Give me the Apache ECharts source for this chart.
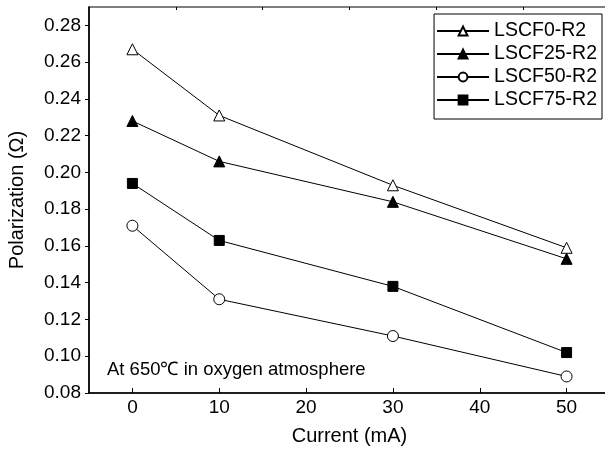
<!DOCTYPE html>
<html>
<head>
<meta charset="utf-8">
<script src="https://cdn.jsdelivr.net/npm/echarts@6/dist/echarts.min.js"></script>
<style>
  html, body { margin: 0; padding: 0; background: #fff; }
  #chart { width: 605px; height: 450px; }
</style>
</head>
<body>
<div id="chart"></div>
<script>
// current values (mA)
const currents = [0, 10, 30, 50];
const seriesNames = ['LSCF0-R2', 'LSCF25-R2', 'LSCF50-R2', 'LSCF75-R2'];
const lscf0 = [0.267, 0.231, 0.193, 0.159];
const lscf25 = [0.228, 0.206, 0.184, 0.153];
const lscf50 = [0.171, 0.131, 0.111, 0.089];
const lscf75 = [0.194, 0.163, 0.138, 0.102];
const xTicks = [0, 10, 20, 30, 40, 50];
const xMinorTicks = [5, 15, 25, 35, 45];
const yMinorTicks = [0.09, 0.11, 0.13, 0.15, 0.17, 0.19, 0.21, 0.23, 0.25, 0.27];

const font = 'Liberation Sans, Arial, sans-serif';
const chart = echarts.init(document.getElementById('chart'));

const pairs = (ys) => currents.map((x, i) => [x, ys[i]]);

function makeSeries(name, ys, symbol, hollow, size) {
  return {
    name: name,
    type: 'line',
    data: pairs(ys),
    symbol: symbol,
    symbolSize: size,
    showSymbol: true,
    lineStyle: { color: '#000', width: 1 },
    itemStyle: {
      color: hollow ? '#fff' : '#000',
      borderColor: '#000',
      borderWidth: 1
    },
    emphasis: { disabled: true },
    animation: false
  };
}

const xBase = {
  type: 'value', min: -5, max: 55, gridIndex: 0,
  splitLine: { show: false }
};
const yBase = {
  type: 'value', min: 0.08, max: 0.29, gridIndex: 0,
  splitLine: { show: false }
};

let option = {
  backgroundColor: '#fff',
  animation: false,
  grid: {
    left: 89, top: 7, right: -5, bottom: 57,
    outerBoundsMode: 'none',
    containLabel: false,
    show: true, borderColor: '#000', borderWidth: 1.2,
    backgroundColor: 'transparent'
  },
  legend: {
    orient: 'vertical',
    right: 3, top: 14,
    itemWidth: 52, itemHeight: 11, itemGap: 3,
    padding: [7, 5, 9, 2],
    borderColor: '#000', borderWidth: 1,
    backgroundColor: '#fff',
    textStyle: { fontFamily: font, fontSize: 19.5, color: '#000', padding: [0, 0, 0, 0] },
    data: seriesNames
  },
  xAxis: [
    Object.assign({}, xBase, {
      name: 'Current (mA)', nameLocation: 'middle', nameGap: 33,
      nameTextStyle: { fontFamily: font, fontSize: 20, color: '#000' },
      axisLine: { onZero: false, lineStyle: { color: '#000', width: 1.5 } },
      axisTick: { inside: true, length: 5, customValues: xTicks, lineStyle: { color: '#000' } },
      axisLabel: { customValues: xTicks, fontFamily: font, fontSize: 19, color: '#000', margin: 5 }
    }),
    Object.assign({}, xBase, {
      axisLine: { show: false, onZero: false },
      axisTick: { inside: true, length: 3, customValues: xMinorTicks, lineStyle: { color: '#000' } },
      axisLabel: { show: false }
    })
  ],
  yAxis: [
    Object.assign({}, yBase, {
      interval: 0.02,
      name: 'Polarization (\u03A9)', nameLocation: 'middle', nameGap: 62,
      nameTextStyle: { fontFamily: font, fontSize: 20, color: '#000' },
      axisLine: { onZero: false, lineStyle: { color: '#000', width: 1.5 } },
      axisTick: { inside: false, length: 4, lineStyle: { color: '#000' } },
      axisLabel: {
        fontFamily: font, fontSize: 19, color: '#000', margin: 8,
        showMaxLabel: false,
        formatter: (v) => v.toFixed(2)
      }
    }),
    Object.assign({}, yBase, {
      axisLine: { show: false, onZero: false },
      axisTick: { inside: true, length: 3, customValues: yMinorTicks, lineStyle: { color: '#000' } },
      axisLabel: { show: false }
    })
  ],
  graphic: [
    {
      type: 'text', left: 107, top: 360,
      style: { text: 'At 650\u2103 in oxygen atmosphere', fontFamily: font, fontSize: 18.5, fill: '#000' }
    }
  ],
  series: [
    makeSeries(seriesNames[0], lscf0, 'triangle', true, 11),
    makeSeries(seriesNames[1], lscf25, 'triangle', false, 11),
    makeSeries(seriesNames[2], lscf50, 'circle', true, 11),
    makeSeries(seriesNames[3], lscf75, 'rect', false, 10)
  ]
};

chart.setOption(option);
</script>
</body>
</html>
